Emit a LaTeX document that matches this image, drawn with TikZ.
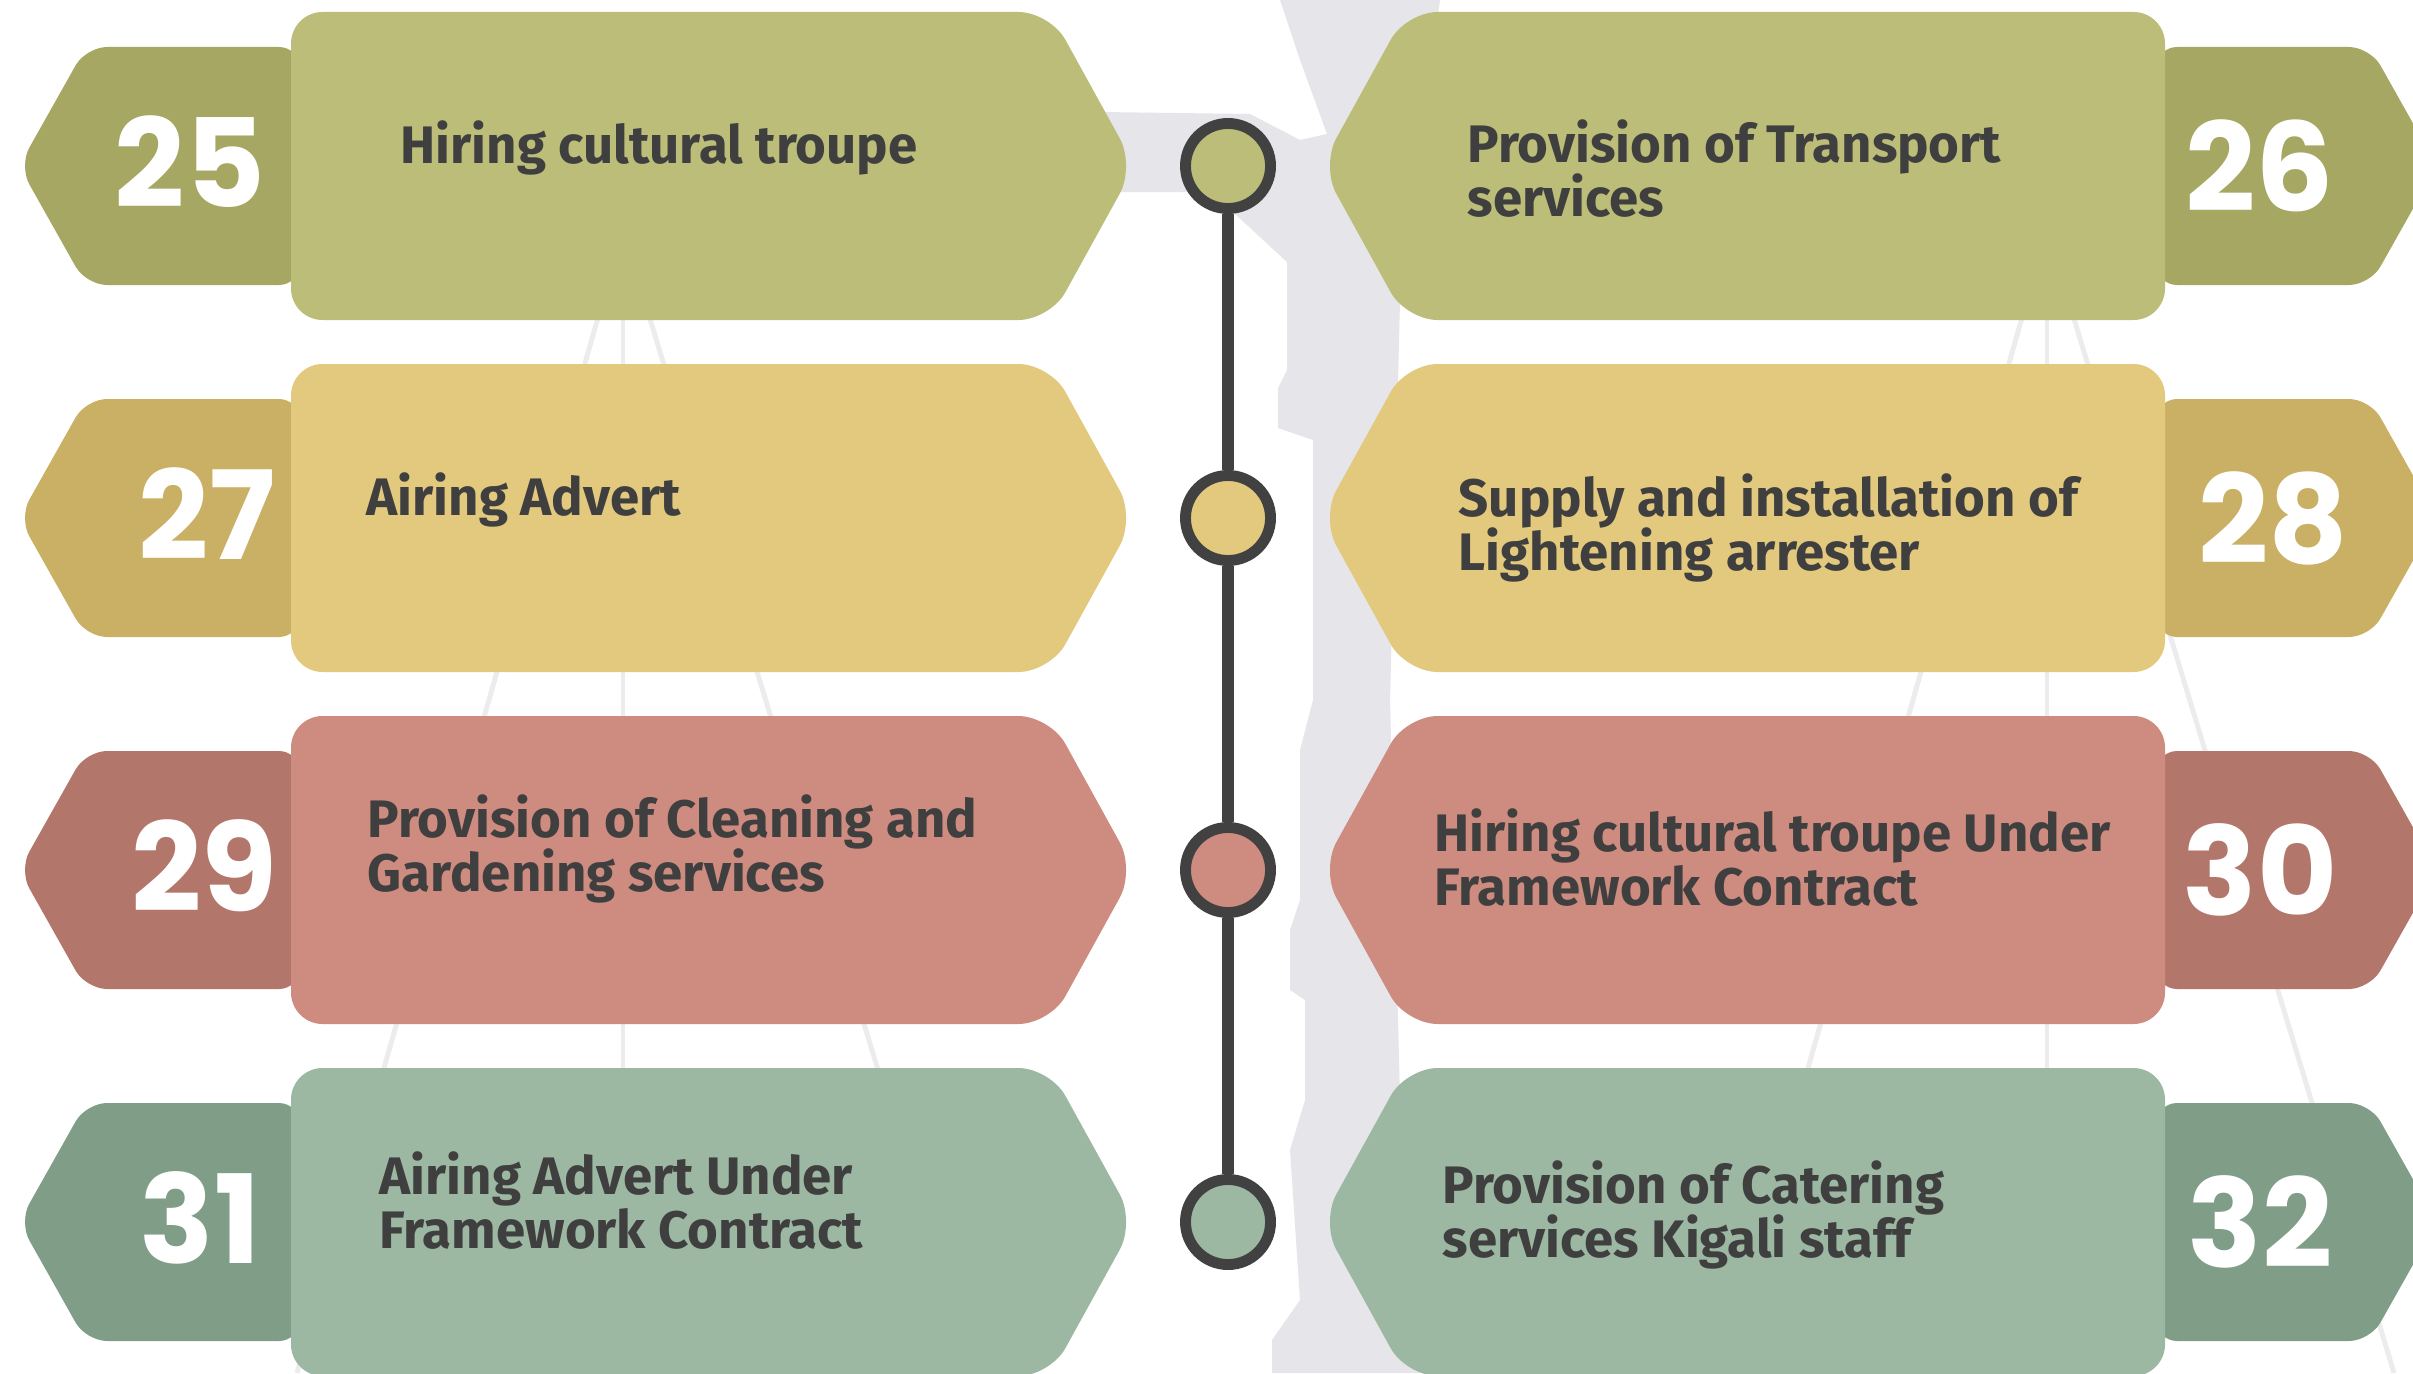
\documentclass[tikz,border=0pt]{standalone}
\usepackage{fontspec}
\setmainfont{Fira Sans}
\newfontfamily\numfont{Poppins}
\newfontfamily\lblfont{Fira Sans}
\newcommand\tightlines{\lineskiplimit=-30pt\relax\lineskip=0pt\relax}
\definecolor{txtgray}{HTML}{3F3F3F}
\definecolor{linegray}{HTML}{414141}
\definecolor{wmark}{HTML}{E6E6EA}
\definecolor{wline}{HTML}{ECECEE}
\definecolor{mainA}{HTML}{BBBD78}\definecolor{tabA}{HTML}{A6A763}
\definecolor{mainB}{HTML}{E2C97E}\definecolor{tabB}{HTML}{CAB064}
\definecolor{mainC}{HTML}{CE8B7F}\definecolor{tabC}{HTML}{B3766A}
\definecolor{mainD}{HTML}{9DB8A2}\definecolor{tabD}{HTML}{809D88}
\tikzset{
  numtext/.style={font=\numfont\bfseries\fontsize{35}{35}\selectfont, text=white, inner sep=0pt, anchor=center},
  lbl/.style={font=\lblfont\bfseries\fontsize{15}{15.3}\selectfont\tightlines, text=txtgray, align=left, anchor=base west, inner sep=0pt},
  dot/.style={circle, draw=linegray, line width=3.1pt, minimum size=0.85cm, inner sep=0pt},
  spine/.style={draw=linegray, line width=3.4pt},
  tabshape/.style={rounded corners=6pt},
  boxshape/.style={rounded corners=9pt},
  wm/.style={fill=wmark},
  wl/.style={draw=wline, line width=1.4pt}
}
% #1 cy, #2 main colour, #3 tab colour, #4 number, #5 number x, #6 text, #7 text x, #8 baseline y of last line
\newcommand\LRow[8]{%
  \fill[#3, tabshape] (300,{#1-119}) -- (86,{#1-119}) -- (19,#1) -- (86,{#1+119}) -- (300,{#1+119}) -- cycle;
  \fill[#2, boxshape] (291,{#1-154}) -- (1050,{#1-154}) -- (1135,#1) -- (1050,{#1+154}) -- (291,{#1+154}) -- cycle;
  \node[numtext] (n#4) at (#5,{#1-4}) {#4};
  \node[lbl] (t#4) at (#7,#8) {#6};
}
\newcommand\RRow[8]{%
  \fill[#3, tabshape] (2156,{#1-119}) -- (2370,{#1-119}) -- (2437,#1) -- (2370,{#1+119}) -- (2156,{#1+119}) -- cycle;
  \fill[#2, boxshape] (2165,{#1-154}) -- (1406,{#1-154}) -- (1321,#1) -- (1406,{#1+154}) -- (2165,{#1+154}) -- cycle;
  \node[numtext] (n#4) at (#5,#1) {#4};
  \node[lbl] (t#4) at (#7,#8) {#6};
}
\begin{document}
\begin{tikzpicture}[x=0.01cm, y=-0.01cm]
\useasboundingbox (0,0) rectangle (2413,1373);
\clip (0,0) rectangle (2413,1373);
\fill[white] (0,0) rectangle (2413,1373);
% watermark
\fill[wm] (1280,0) -- (1300,60) -- (1327,134) -- (1300,140) -- (1250,114) -- (1100,112) -- (1100,192)
  -- (1210,192) -- (1235,214) -- (1287,262) -- (1287,370) -- (1278,388) -- (1278,428) -- (1313,440)
  -- (1313,700) -- (1300,750) -- (1300,900) -- (1290,930) -- (1290,990) -- (1305,1000) -- (1305,1100)
  -- (1290,1150) -- (1300,1300) -- (1272,1340) -- (1272,1373) -- (1420,1373) -- (1400,1100)
  -- (1390,700) -- (1400,300) -- (1440,0) -- cycle;
\foreach \dx in {0,1424}{
  \draw[wl] ({623+\dx},200) -- ({623+\dx},1373);
  \draw[wl] ({623+\dx},230) -- ({297+\dx},1373);
  \draw[wl] ({623+\dx},230) -- ({970+\dx},1373);
}
% rows
\LRow{166}{mainA}{tabA}{25}{190}{Hiring cultural troupe}{400}{163}
\LRow{518}{mainB}{tabB}{27}{207}{Airing Advert}{366}{515}
\LRow{870}{mainC}{tabC}{29}{204}{Provision of Cleaning and\\Gardening services}{367}{891}
\LRow{1222}{mainD}{tabD}{31}{200}{Airing Advert Under\\Framework Contract}{379}{1248}
\RRow{166}{mainA}{tabA}{26}{2260}{Provision of Transport\\services}{1467}{216}
\RRow{518}{mainB}{tabB}{28}{2273}{Supply and installation of\\Lightening arrester}{1458}{570}
\RRow{870}{mainC}{tabC}{30}{2260}{Hiring cultural troupe Under\\Framework Contract}{1434}{905}
\RRow{1222}{mainD}{tabD}{32}{2260}{Provision of Catering\\services Kigali staff}{1442}{1257}
% timeline
\node[dot, fill=mainA] (c1) at (1228,166) {};
\node[dot, fill=mainB] (c2) at (1228,518) {};
\node[dot, fill=mainC] (c3) at (1228,870) {};
\node[dot, fill=mainD] (c4) at (1228,1222) {};
\draw[spine] (c1) -- (c2);
\draw[spine] (c2) -- (c3);
\draw[spine] (c3) -- (c4);
\end{tikzpicture}
\end{document}
